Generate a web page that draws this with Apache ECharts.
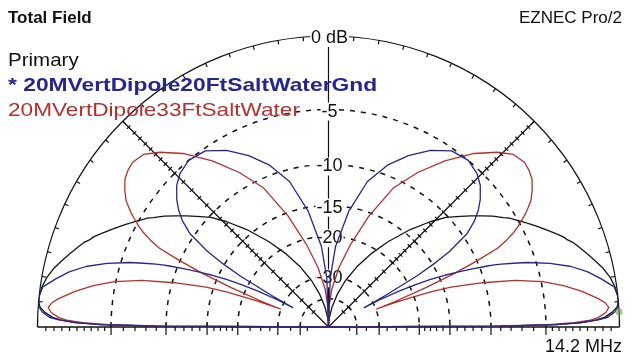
<!DOCTYPE html>
<html>
<head>
<meta charset="utf-8">
<script src="https://cdn.jsdelivr.net/npm/echarts@6/dist/echarts.min.js"></script>
<style>
  html, body { margin: 0; padding: 0; background: #ffffff; }
  #chart { width: 631px; height: 360px; }
</style>
</head>
<body>
<div id="chart"></div>
<script>
// Elevation angles (degrees above the horizon) at which each pattern is sampled
const elevation = [0, 0.3, 0.6, 1, 1.5, 2, 3, 4, 5, 6, 8, 10, 12, 14, 16, 18, 19, 20, 20.5, 21,
  22, 23, 24, 25, 26, 27, 28, 28.5, 29, 30, 31, 32, 34, 36, 38, 40, 43, 46, 50, 55,
  60, 65, 70, 75, 80, 85, 88, 90];

// Field strength relative to the plot maximum, dB (-99 marks a null).
// "Right" is the 0-90 deg side of the plot, "Left" the 180-90 deg side.
const primaryRight = [-99, -9, -4.2, -2.4, -1.4, -0.9, -0.4, -0.1, 0, 0, -0.1, -0.3, -0.6, -1.0, -1.4, -1.8, -2.0, -2.3, -2.4, -2.5,
  -2.8, -3.1, -3.4, -3.7, -4.0, -4.3, -4.6, -4.75, -4.9, -5.2, -5.5, -5.9, -6.6, -7.4, -8.2, -9.0, -10.2, -11.8, -14.2, -17.6,
  -21.3, -25.5, -30.5, -37, -46, -60, -75, -99];
const primaryLeft = [-99, -9, -4.2, -2.4, -1.4, -0.9, -0.4, -0.1, 0, 0, -0.1, -0.3, -0.6, -1.0, -1.4, -1.8, -2.0, -2.3, -2.4, -2.5,
  -2.8, -3.1, -3.4, -3.7, -4.0, -4.3, -4.6, -4.75, -4.9, -5.2, -5.5, -5.9, -6.6, -7.4, -8.2, -9.0, -10.2, -11.8, -14.2, -17.6,
  -21.3, -25.5, -30.5, -37, -46, -60, -75, -99];

const ft20Right = [-99, -9, -4.2, -2.4, -1.3, -0.7, -0.25, -0.05, 0, 0, -0.15, -0.85, -1.6, -2.6, -4.0, -5.7, -6.8, -7.9, -8.5, -9.2,
  -10.8, -12.4, -14.2, -16.3, -19, -22.5, -28, -34, -26, -18, -14.5, -12.2, -9.5, -8.2, -7.3, -6.6, -5.8, -5.3, -5.0, -5.2,
  -6.1, -7.4, -9.0, -11.3, -15.5, -22, -30.5, -99];
const ft20Left = [-99, -9, -4.2, -2.4, -1.3, -0.7, -0.25, -0.05, 0, 0, -0.15, -0.85, -1.6, -2.6, -4.0, -5.7, -6.8, -7.9, -8.5, -9.2,
  -10.8, -12.4, -14.2, -16.3, -19, -22.5, -28, -34, -26, -18, -14.5, -12.2, -9.5, -8.2, -7.3, -6.6, -5.8, -5.3, -5.0, -5.2,
  -6.1, -7.4, -9.0, -11.3, -15.5, -22, -30.5, -99];

const ft33Right = [-99, -10, -4.8, -2.9, -1.8, -1.3, -0.8, -0.6, -0.8, -1.2, -2.2, -3.4, -4.9, -7.1, -10.2, -14, -17, -23, -30, -24,
  -17.5, -13, -10, -7.6, -6.6, -5.8, -5.2, -4.95, -4.7, -4.2, -3.8, -3.4, -2.9, -2.5, -2.3, -2.2, -2.4, -3.1, -4.3, -6.2,
  -8.4, -11, -15.5, -21, -27, -35, -45, -99];
const ft33Left = [-99, -10, -4.8, -2.9, -1.8, -1.3, -0.8, -0.6, -0.8, -1.2, -2.2, -3.4, -4.9, -7.1, -10.2, -14, -17, -23, -30, -24,
  -17.5, -13, -10, -7.6, -6.6, -5.8, -5.2, -4.95, -4.7, -4.2, -3.8, -3.4, -2.9, -2.5, -2.3, -2.2, -2.4, -3.1, -4.3, -6.2,
  -8.4, -11, -15.5, -21, -27, -35, -45, -99];

// Scale rings, their labels and tick marks on the radial lines
const ringLevels = [-5, -10, -15, -20, -30, -40];
const labelLevels = [0, -5, -10, -15, -20, -30];
const labelTexts = ['0 dB', '-5', '-10', '-15', '-20', '-30'];
const minorTickLevels = [-0.5, -1, -1.5, -2, -2.5, -3, -3.5, -4, -4.5, -6, -7, -8, -9, -11, -12, -13, -14,
  -16, -17, -18, -19, -22.5, -25, -27.5, -35, -45];
const radialLineAngles = [45, 90, 135];
const rimTickStep = 5;
const cursorElevation = 3;

const titleText = 'Total Field';
const programText = 'EZNEC Pro/2';
const freqText = '14.2 MHz';
const legendNames = ['Primary', '* 20MVertDipole20FtSaltWaterGnd', '20MVertDipole33FtSaltWater'];
const colors = { primary: '#141414', ft20: '#26268f', ft33: '#b4302c', grid: '#111111' };

// ARRL log-periodic radial scale: each 2 dB step shrinks the radius by 0.89
function arrl(db) {
  return db <= -99 ? 0 : Math.pow(0.89, -db / 2);
}

function patternSeries(name, right, left, color, z) {
  const pts = [];
  elevation.forEach((e, i) => pts.push([arrl(right[i]), e]));
  for (let i = elevation.length - 1; i >= 0; i--) pts.push([arrl(left[i]), 180 - elevation[i]]);
  return {
    type: 'line', name, coordinateSystem: 'polar', data: pts,
    showSymbol: false, symbol: 'none', smooth: false, silent: true, z,
    lineStyle: { color, width: 1.3 }
  };
}

function gridRender(params, api) {
  const c = api.coord([0, 0]);
  const R = api.coord([1, 0])[0] - c[0];
  const kids = [];
  const dash = { stroke: colors.grid, fill: null, lineWidth: 1.5, lineDash: [5, 6] };
  const solid = { stroke: colors.grid, fill: null, lineWidth: 1.2 };
  // dashed rings
  ringLevels.forEach(d => {
    const rr = api.coord([arrl(d), 0])[0] - c[0];
    kids.push({ type: 'arc', shape: { cx: c[0], cy: c[1], r: rr, startAngle: Math.PI, endAngle: 2 * Math.PI, clockwise: true }, style: dash });
  });
  // outer rim
  kids.push({ type: 'arc', shape: { cx: c[0], cy: c[1], r: R, startAngle: Math.PI, endAngle: 2 * Math.PI, clockwise: true }, style: solid });
  // baseline
  const pL = api.coord([1, 180]), pR = api.coord([1, 0]);
  kids.push({ type: 'line', shape: { x1: pL[0], y1: pL[1], x2: pR[0], y2: pR[1] }, style: { stroke: colors.grid, lineWidth: 1.5 } });
  kids.push({ type: 'line', shape: { x1: pL[0], y1: pL[1], x2: pL[0], y2: pL[1] - 7 }, style: solid });
  kids.push({ type: 'line', shape: { x1: pR[0], y1: pR[1], x2: pR[0], y2: pR[1] - 7 }, style: solid });
  // radial lines
  radialLineAngles.forEach(a => {
    const p = api.coord([1, a]);
    kids.push({ type: 'line', shape: { x1: c[0], y1: c[1], x2: p[0], y2: p[1] }, style: solid });
  });
  // rim ticks
  for (let a = rimTickStep; a < 180; a += rimTickStep) {
    const p1 = api.coord([1, a]), p2 = api.coord([1 - 4 / R, a]);
    kids.push({ type: 'line', shape: { x1: p1[0], y1: p1[1], x2: p2[0], y2: p2[1] }, style: solid });
  }
  // baseline ticks
  [0, 180].forEach(a => {
    ringLevels.forEach(d => {
      const p = api.coord([arrl(d), a]);
      kids.push({ type: 'line', shape: { x1: p[0], y1: p[1] - 3, x2: p[0], y2: p[1] + 8 }, style: solid });
    });
    minorTickLevels.forEach(d => {
      const p = api.coord([arrl(d), a]);
      kids.push({ type: 'line', shape: { x1: p[0], y1: p[1], x2: p[0], y2: p[1] + 4 }, style: solid });
    });
  });
  // ticks across the diagonal lines
  [45, 135].forEach(a => {
    const rad = a * Math.PI / 180;
    const nx = Math.sin(rad) * 2.5, ny = Math.cos(rad) * 2.5;
    ringLevels.concat(minorTickLevels).forEach(d => {
      const p = api.coord([arrl(d), a]);
      kids.push({ type: 'line', shape: { x1: p[0] - nx, y1: p[1] - ny, x2: p[0] + nx, y2: p[1] + ny }, style: solid });
    });
  });
  // scale labels on the vertical line
  labelLevels.forEach((d, i) => {
    const p = api.coord([arrl(d), 90]);
    kids.push({
      type: 'text', x: p[0] + 1, y: p[1] + 2,
      style: {
        text: labelTexts[i], fill: '#111', font: '18px "Liberation Sans", Arial, sans-serif',
        align: 'center', verticalAlign: 'middle', backgroundColor: '#ffffff', padding: [0, 1]
      }
    });
  });
  return { type: 'group', children: kids };
}

const chart = echarts.init(document.getElementById('chart'), null, { renderer: 'canvas' });
const font = '"Liberation Sans", Arial, sans-serif';
chart.setOption({
  animation: false,
  backgroundColor: '#ffffff',
  polar: { center: [328.5, 327], radius: 291 },
  angleAxis: { type: 'value', min: 0, max: 360, startAngle: 0, clockwise: false, show: false },
  radiusAxis: { type: 'value', min: 0, max: 1, show: false },
  series: [
    { type: 'custom', coordinateSystem: 'polar', data: [[0, 0]], renderItem: gridRender, silent: true, z: 1 },
    patternSeries(legendNames[0], primaryRight, primaryLeft, colors.primary, 3),
    patternSeries(legendNames[2], ft33Right, ft33Left, colors.ft33, 4),
    patternSeries(legendNames[1], ft20Right, ft20Left, colors.ft20, 5),
    {
      type: 'scatter', coordinateSystem: 'polar', data: [[arrl(0), cursorElevation]], symbolSize: 7, silent: true, z: 6,
      itemStyle: { color: 'rgba(110,160,70,0.75)' }
    }
  ],
  graphic: [
    { type: 'text', left: 8, top: 10, z: 10, style: { text: titleText, font: 'bold 17px ' + font, fill: '#111' } },
    { type: 'text', right: 9, top: 10, z: 10, style: { text: programText, font: '17px ' + font, fill: '#111' } },
    { type: 'text', x: 8, y: 51, scaleX: 1.08, z: 10, style: { text: legendNames[0], font: '19px ' + font, fill: '#111' } },
    { type: 'text', x: 8, y: 76, scaleX: 1.2, z: 10, style: { text: legendNames[1], font: 'bold 19px ' + font, fill: colors.ft20 } },
    { type: 'text', x: 8, y: 101, scaleX: 1.19, z: 10, style: { text: legendNames[2], font: '19px ' + font, fill: colors.ft33 } },
    { type: 'text', right: 9, top: 338, z: 10, style: { text: freqText, font: '18px ' + font, fill: '#111' } }
  ]
});
</script>
</body>
</html>
